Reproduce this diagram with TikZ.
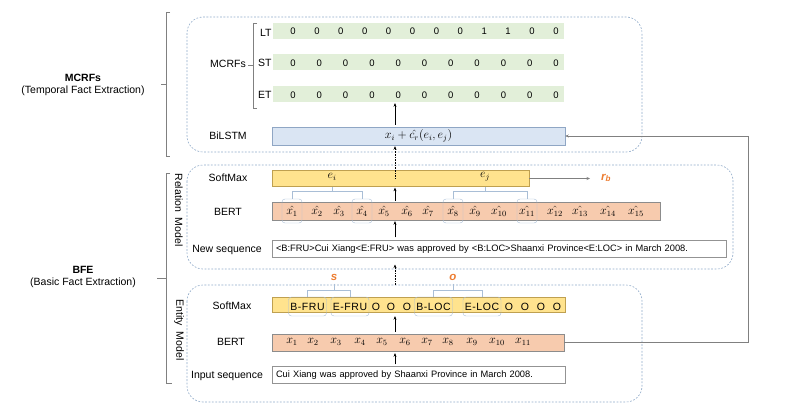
\documentclass[tikz,border=0pt]{standalone}
\usepackage{fontspec}
\setmainfont{Liberation Sans}
\usetikzlibrary{calc,arrows.meta}
\definecolor{grpline}{HTML}{8FA9C8}
\definecolor{rowgreen}{HTML}{E2EFD9}
\definecolor{lstmfill}{HTML}{DAE5F3}
\definecolor{lstmline}{HTML}{8FA6C4}
\definecolor{softfill}{HTML}{FFE38E}
\definecolor{softline}{HTML}{BFA050}
\definecolor{bertfill}{HTML}{F7CBAE}
\definecolor{bertline}{HTML}{8C8C8C}
\definecolor{tagline}{HTML}{A9BED6}
\definecolor{hlorange}{HTML}{ED7D31}
\begin{document}
\begin{tikzpicture}[x=1pt,y=-1pt,font=\fontsize{10.5}{12}\selectfont,>={Stealth[length=3.5pt,width=3pt]}]
  \tikzset{
    grp/.style={draw=grpline,line width=0.6pt,dash pattern=on 1.8pt off 1.6pt,rounded corners=16pt},
    row/.style={fill=rowgreen,minimum width=291pt,minimum height=16pt,inner sep=0pt},
    lstm/.style={draw=lstmline,fill=lstmfill,minimum width=293pt,minimum height=18pt,inner sep=0pt},
    soft/.style={draw=softline,fill=softfill,minimum height=16pt,inner sep=0pt},
    bert/.style={draw=bertline,fill=bertfill,minimum height=18pt,inner sep=0pt},
    seq/.style={draw=gray!85,fill=white,inner sep=4pt,minimum height=16pt,align=left,font=\fontsize{9.3}{11}\selectfont},
    val/.style={font=\fontsize{9.5}{11}\selectfont,inner sep=0pt},
    tok/.style={font=\fontsize{12}{13}\selectfont,inner sep=0pt},
    plain/.style={},
    rtag/.style={draw=tagline,rounded corners=3pt,minimum width=20pt,minimum height=24pt},
    etok/.style={inner sep=0pt,font=\fontsize{10.5}{12}\selectfont\addfontfeature{LetterSpace=5}},
    etag/.style={draw=tagline,rounded corners=3pt,minimum width=38pt,minimum height=19pt},
    brk/.style={draw=tagline,line width=0.6pt},
    side/.style={draw=gray,line width=0.6pt},
    arr/.style={->,shorten <=2pt,shorten >=1pt},
    dotarr/.style={->,densely dotted,line width=0.6pt},
    garr/.style={->,draw=gray,line width=0.6pt},
    hl/.style={text=hlorange,font=\fontsize{11.5}{13}\selectfont\bfseries\itshape}
  }
  \useasboundingbox (0,0) rectangle (792,408);
  \draw[grp] (187,17) rectangle (642,152);
  \draw[grp] (187,165) rectangle (733,269);
  \draw[grp] (187,285) rectangle (642,402);
  \node[align=center] (mcrfsside) at (83,85) {\textbf{MCRFs}\\(Temporal Fact Extraction)};
  \node[align=center] (bfeside) at (83,277) {\textbf{BFE}\\(Basic Fact Extraction)};
  \draw[side] (170,12) -- (166,12) -- (166,156) -- (170,156);
  \draw[side] (161,84) -- (166,84);
  \draw[side] (170,173) -- (166,173) -- (166,383) -- (172,383);
  \draw[side] (157,278) -- (166,278);
  \node[rotate=-90] (relmodel) at (179,210) {Relation\ \ Model};
  \node[rotate=-90] (entmodel) at (179,330) {Entity\ \ Model};
  \coordinate (col) at (395,0);
  \node[row] (lt) at (418.5,30.5) {};
  \node[row] (st) at (418.5,62) {};
  \node[row] (et) at (418.5,94) {};
  \node[anchor=east,inner sep=1pt] (ltlbl) at ([yshift=-2pt]lt.west) {LT};
  \node[anchor=east,inner sep=1pt] (stlbl) at ([yshift=-1pt]st.west) {ST};
  \node[anchor=east,inner sep=1pt] (etlbl) at ([yshift=-1pt]et.west) {ET};
  \foreach \v [count=\i] in {0,0,0,0,0,0,0,0,1,1,0,0}
    \node[val] (lt\i) at ({293+(\i-1)*23.9},31.5) {\v};
  \foreach \i in {1,...,11} {
    \node[val] (st\i) at ({293+(\i-1)*26.3},63) {0};
    \node[val] (et\i) at ({293+(\i-1)*26.3},95) {0};
  }
  \draw[side] (257,23) -- (253,23) -- (253,108) -- (257,108);
  \draw[side] (248,65) -- (253,65);
  \node[anchor=east,inner sep=1pt] (mcrfs) at (247,64) {MCRFs};
  \node[lstm] (bilstm) at (418.5,136) {\fontsize{12}{13}\selectfont$x_i+\hat{c_r}(e_i,e_j)$};
  \node (bilstmlbl) at (228,136) {BiLSTM};
  \node[soft,minimum width=257pt] (rsoft) at (400.5,178.5) {};
  \node (rsoftlbl) at (228,178) {SoftMax};
  \node[tok] (ei) at (332,177) {$e_i$};
  \node[tok] (ej) at (485,177) {$e_j$};
  \coordinate (rbend) at (590,178.5);
  \node[hl] (rb) at (606,178) {r\textsubscript{b}};
  \node[bert,minimum width=388pt] (rbert) at (466,211) {};
  \node (rbertlbl) at (228,212) {BERT};
  \foreach \x/\s [count=\i] in {292/rtag,317/plain,339/plain,362/rtag,384/plain,407/plain,428/plain,453/rtag,475/plain,499/plain,527/rtag,555/plain,580/plain,608/plain,636/plain}
    \node[tok,\s] (rx\i) at (\x,211) {$\hat{x_{\i}}$};
  \node[seq,text width=446pt] (newseq) at (499,249) {<B:FRU>Cui Xiang<E:FRU> was approved by <B:LOC>Shaanxi Province<E:LOC> in March 2008.};
  \node (newseqlbl) at (227,250) {New sequence};
  \node[hl] (s) at (334,277) {s};
  \node[hl] (o) at (453,277) {o};
  \node[soft,minimum width=293pt,minimum height=15pt] (esoft) at (418.5,304.5) {};
  \node (esoftlbl) at (232,306) {SoftMax};
  \foreach \t/\x/\s [count=\i] in {B-FRU/307.5/etag,E-FRU/350/etag,O/376/plain,O/391/plain,O/407/plain,B-LOC/433.5/etag,E-LOC/482/etag,O/509/plain,O/525/plain,O/541/plain,O/557/plain}
    \node[etok,\s] (et\i) at (\x,306.5) {\t};
  \node[bert,minimum width=292pt,minimum height=17pt] (ebert) at (418,342.5) {};
  \node (ebertlbl) at (231,342) {BERT};
  \foreach \x [count=\i] in {292,313,336,360,382,405,427,448,472,497,523}
    \node[tok] (ex\i) at (\x,342) {$x_{\i}$};
  \node[seq,text width=285pt] (inseq) at (418.5,375) {Cui Xiang was approved by Shaanxi Province in March 2008.};
  \node (inseqlbl) at (227,376) {Input sequence};
  \draw[brk] (rsoft.south -| ei) -- ++(0,4.5) coordinate (eih);
  \draw[brk] (rx1.north) |- (rx4.north |- eih) -- (rx4.north);
  \draw[brk] (rsoft.south -| ej) -- ++(0,4.5) coordinate (ejh);
  \draw[brk] (rx8.north) |- (rx11.north |- ejh) -- (rx11.north);
  \draw[brk] (s.south) -- ++(0,7) coordinate (sh);
  \draw[brk] (et1.north) |- (et2.north |- sh) -- (et2.north);
  \draw[brk] (o.south) -- ++(0,7) coordinate (oh);
  \draw[brk] (et6.north) |- (et7.north |- oh) -- (et7.north);
  \draw[arr] (bilstm.north -| col) -- (et.south -| col);
  \draw[dotarr,shorten >=1pt] ($(rsoft.north -| col)+(0,8)$) -- (bilstm.south -| col);
  \draw[arr,shorten <=1pt] (rbert.north -| col) -- (rsoft.south -| col);
  \draw[arr,shorten <=3pt] (newseq.north -| col) -- (rbert.south -| col);
  \draw[dotarr,shorten <=12pt,shorten >=7pt] (esoft.north -| col) -- (newseq.south -| col);
  \draw[arr,shorten >=4pt] (ebert.north -| col) -- (esoft.south -| col);
  \draw[arr,shorten >=2pt] (inseq.north -| col) -- (ebert.south -| col);
  \draw[garr] (rsoft.east) -- (rbend);
  \coordinate (turn) at (748,342.5);
  \draw[garr] (ebert.east) -- (turn) |- (bilstm.east);
\end{tikzpicture}
\end{document}
